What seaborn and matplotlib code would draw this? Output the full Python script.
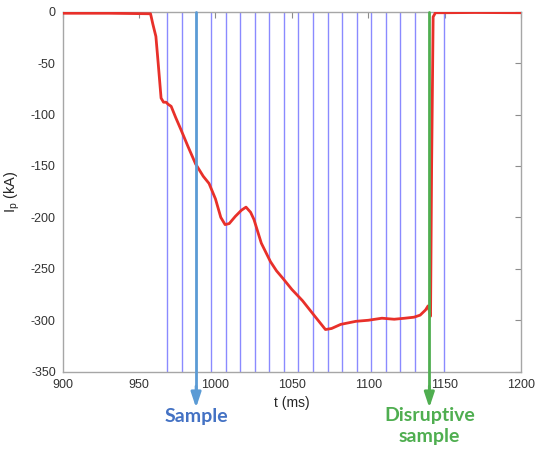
import matplotlib
matplotlib.use("Agg")
import matplotlib.pyplot as plt
import matplotlib.transforms as mtransforms
import numpy as np
import pandas as pd
import seaborn as sns

# ---- data ----
t_ms = [900, 930, 957.5, 959, 961, 962.5, 964.4, 966, 967.7, 969, 971, 974, 977.5,
        982, 987, 992, 995.8, 1000, 1003.5, 1006.3, 1009, 1013, 1017, 1020, 1023,
        1025.2, 1030, 1036, 1040, 1044, 1050, 1057, 1065, 1072, 1076, 1082, 1092,
        1100, 1109, 1117, 1124, 1130, 1134, 1137.5, 1139.2, 1140.8, 1141.5, 1142.5,
        1144, 1150, 1170, 1200]
ip_ka = [-1.5, -1.5, -2, -12, -24, -50, -84, -88, -88, -90, -92, -103, -115,
         -131, -148, -160, -167, -182, -200, -207, -206, -199, -193, -190, -195,
         -202, -225, -243, -252, -259, -270, -281, -296, -309, -308, -304, -301,
         -300, -298, -299, -298, -297, -295, -290, -286, -296, -150, -5,
         -1, -1, -0.8, -1]

sample_times = [968.5, 977.9, 987.3, 996.9, 1006.7, 1016.1, 1025.7, 1035.2, 1044.9,
                1054.2, 1063.8, 1073.5, 1083.0, 1092.4, 1102.0, 1111.6, 1121.0,
                1130.6, 1140.0, 1149.7]
sample_marked = 987.3
disruptive_marked = 1140.0

x_ticks = [900, 950, 1000, 1050, 1100, 1150, 1200]
y_ticks = [0, -50, -100, -150, -200, -250, -300, -350]

df = pd.DataFrame({"t": t_ms, "Ip": ip_ka})

sns.set_style("white")
plt.rcParams["font.family"] = ["Liberation Sans", "DejaVu Sans"]
plt.rcParams["mathtext.fontset"] = "custom"
plt.rcParams["mathtext.rm"] = "Liberation Sans"
plt.rcParams["mathtext.it"] = "Liberation Sans:italic"

fig = plt.figure(figsize=(5.35, 4.5), dpi=100)
ax = fig.add_axes([0.1172, 0.174, 0.8566, 0.8])

# vertical sample lines
for st in sample_times:
    if abs(st - sample_marked) < 0.5 or abs(st - disruptive_marked) < 0.5:
        continue
    ax.axvline(st, color="#8a8aff", lw=1.0, zorder=1)

sns.lineplot(data=df, x="t", y="Ip", ax=ax, color="#e8302a", lw=2.0, zorder=3)

ax.set_xlim(900, 1200)
ax.set_ylim(-350, 0)
ax.set_xticks(x_ticks)
ax.set_yticks(y_ticks)
ax.set_xticklabels([str(v) for v in x_ticks])
ax.set_yticklabels([str(v) for v in y_ticks])

for s in ax.spines.values():
    s.set_color("#a6a6a6")
    s.set_linewidth(1.0)
ax.tick_params(direction="in", length=4, width=0.8, color="#8c8c8c",
               labelsize=9, labelcolor="#333333", top=True, right=True,
               pad=5)
ax.set_xlabel("t (ms)", fontsize=10, color="#262626", labelpad=4)
ax.set_ylabel("I$_{\\rm p}$ (kA)", fontsize=10.5, color="#262626", labelpad=6)

trans = mtransforms.blended_transform_factory(ax.transData, ax.transAxes)

# marked sample line + arrow
blue_line = "#5b9bd5"
ax.plot([sample_marked, sample_marked], [1, -0.06], transform=trans,
        color=blue_line, lw=2.0, clip_on=False, zorder=4)
ax.annotate("", xy=(sample_marked, -0.10), xytext=(sample_marked, -0.04),
            xycoords=trans, textcoords=trans,
            arrowprops=dict(arrowstyle="-|>,head_length=0.9,head_width=0.3",
                            color=blue_line, lw=2.0, shrinkA=0, shrinkB=0),
            annotation_clip=False)
ax.text(sample_marked, -0.125, "Sample", transform=trans, ha="center", va="center",
        fontsize=14, fontweight="bold", color="#4472c4", family=["Lato", "DejaVu Sans"])

green = "#4fae50"
ax.plot([disruptive_marked, disruptive_marked], [1, -0.06], transform=trans,
        color=green, lw=2.0, clip_on=False, zorder=4)
ax.annotate("", xy=(disruptive_marked, -0.10), xytext=(disruptive_marked, -0.04),
            xycoords=trans, textcoords=trans,
            arrowprops=dict(arrowstyle="-|>,head_length=0.9,head_width=0.3",
                            color=green, lw=2.0, shrinkA=0, shrinkB=0),
            annotation_clip=False)
ax.text(disruptive_marked, -0.15, "Disruptive\nsample", transform=trans,
        ha="center", va="center", fontsize=14, fontweight="bold", color=green,
        linespacing=1.3, family=["Lato", "DejaVu Sans"])

fig.savefig("out.png", dpi=100)
